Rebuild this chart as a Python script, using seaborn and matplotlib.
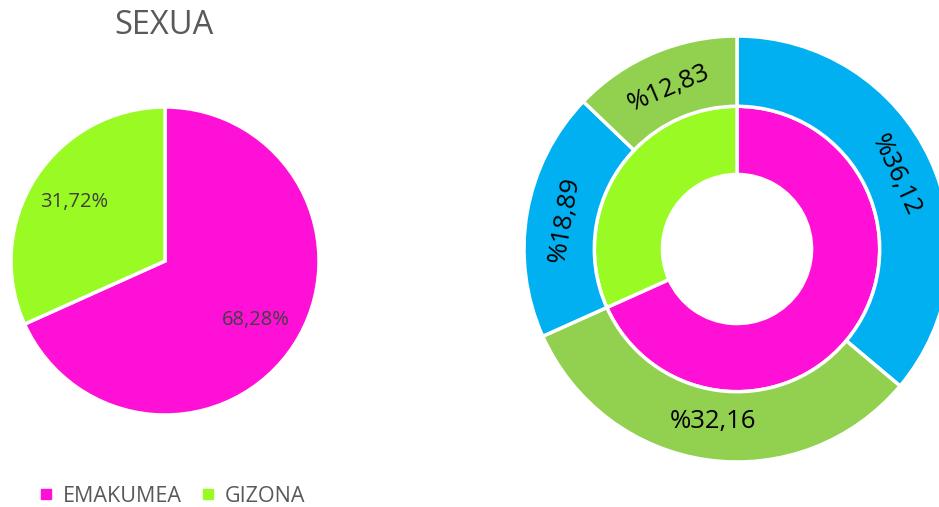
import matplotlib
matplotlib.use("Agg")
import matplotlib.pyplot as plt
import seaborn as sns
import numpy as np
from matplotlib.lines import Line2D

sns.set_theme(style="white")
plt.rcParams['font.family'] = ['Open Sans', 'DejaVu Sans']

# datuak
sexua_labels = ['EMAKUMEA', 'GIZONA']
sexua_values = [68.28, 31.72]
inner_values = [68.28, 31.72]
outer_values = [36.12, 32.16, 18.89, 12.83]
outer_labels = ['%36,12', '%32,16', '%18,89', '%12,83']

magenta = '#FF10D6'
lime = '#99FB23'
blue = '#00B0F0'
green = '#92D050'

W, H = 939, 507
fig = plt.figure(figsize=(W / 100, H / 100), dpi=100)
fig.patch.set_facecolor('white')


def px_axes(left, top, right, bottom):
  return fig.add_axes([left / W, (H - bottom) / H, (right - left) / W, (bottom - top) / H])


# ezkerreko tarta
ax1 = px_axes(11, 107, 319, 415)
wedges, _, pcts = ax1.pie(
  sexua_values, colors=[magenta, lime], startangle=90, counterclock=False,
  radius=1, autopct=lambda p: f'{p:.2f}%'.replace('.', ','), pctdistance=0.7,
  wedgeprops=dict(edgecolor='white', linewidth=2.5),
  textprops=dict(color='#404040', fontsize=14.5))
ax1.set_xlim(-1, 1)
ax1.set_ylim(-1, 1)
ax1.set_aspect('equal')
ax1.axis('off')

fig.text(164 / W, 1 - 25 / H, 'SEXUA', ha='center', va='center', fontsize=23.5, color='#595959')

handles = [Line2D([0], [0], marker='s', linestyle='', markersize=6.5, markerfacecolor=c, markeredgecolor=c)
           for c in [magenta, lime]]
fig.legend(handles, sexua_labels, loc='center', bbox_to_anchor=(172 / W, 1 - 496 / H), ncol=2,
           frameon=False, fontsize=15.5, handlelength=0.7, handletextpad=0.4, columnspacing=0.9,
           labelcolor='#595959')

# eskuineko donut bikoitza
ax2 = px_axes(524, 36, 950, 462)
ax2.pie(inner_values, colors=[magenta, lime], startangle=90, counterclock=False,
        radius=0.67, wedgeprops=dict(width=0.32, edgecolor='white', linewidth=2.5))
ow, _ = ax2.pie(outer_values, colors=[blue, green, blue, green], startangle=90, counterclock=False,
                radius=1.0, wedgeprops=dict(width=0.33, edgecolor='white', linewidth=2.5))
for w, lab in zip(ow, outer_labels):
  ang = (w.theta1 + w.theta2) / 2
  rot = ang - 90
  while rot > 90:
    rot -= 180
  while rot < -90:
    rot += 180
  if abs(rot) < 10:
    rot = 0
  r = 0.82
  ax2.text(r * np.cos(np.radians(ang)), r * np.sin(np.radians(ang)), lab, rotation=rot,
           ha='center', va='center', fontsize=18.5, color='black', rotation_mode='anchor')
ax2.set_xlim(-1, 1)
ax2.set_ylim(-1, 1)
ax2.set_aspect('equal')
ax2.axis('off')

fig.savefig('out.png', dpi=100, facecolor='white')
